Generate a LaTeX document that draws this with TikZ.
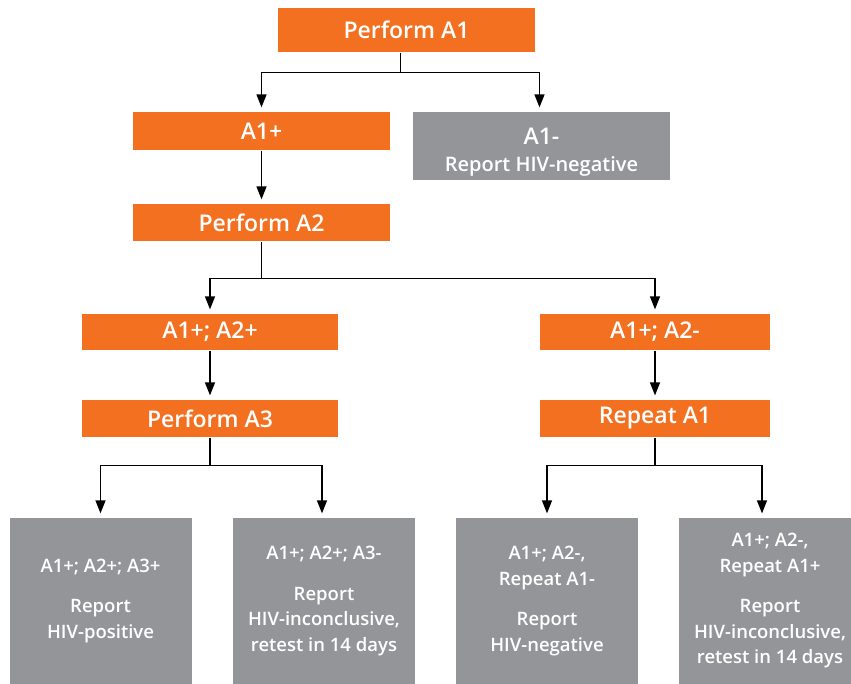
\documentclass[tikz,border=0pt]{standalone}
\usepackage{fontspec}
\setmainfont{Open Sans}[UprightFont={* Semibold}]
\usetikzlibrary{arrows.meta,positioning}
\definecolor{hivorange}{HTML}{F37021}
\definecolor{hivgray}{HTML}{939598}

\begin{document}
\begin{tikzpicture}[x=1pt,y=-1pt,
        stepbox/.style={fill=hivorange,text=white,inner sep=0pt,minimum width=257pt,minimum height=37pt,
            font=\fontsize{23}{26}\selectfont},
        resultbox/.style={fill=hivgray,text=white,align=center,inner sep=0pt,minimum width=182pt,minimum height=166pt,
            font=\fontsize{18.5}{25.5}\selectfont},
        arr/.style={-{Triangle[width=10pt,length=13pt]},shorten >=4pt},
        line width=1.2pt]
                \useasboundingbox (0,0) rectangle (851,683);
                \node[stepbox,minimum height=44pt] (pa1) at (406.5,30) {Perform A1};
                \node[stepbox,minimum height=38pt] (a1pos) at (261.5,131) {A1+};
                \node[stepbox,fill=hivgray,minimum height=68pt,align=center] (a1neg) at (541.5,146)
                    {\rule{0pt}{29pt}A1-\\[1pt]{\fontsize{20}{24}\selectfont Report HIV-negative}};
                \node[stepbox] (pa2) at (261.5,222.5) {Perform A2};
                \node[stepbox,minimum width=256pt,minimum height=36pt] (a12pos) at (210,332) {A1+; A2+};
                \node[stepbox,minimum width=230pt,minimum height=36pt] (a12neg) at (655,332) {A1+; A2-};
                \node[stepbox,minimum width=256pt] (pa3) at (210,418.5) {Perform A3};
                \node[stepbox,minimum width=230pt] (rpt) at (655,418.5) {Repeat A1};
                \node[resultbox] (res1) at (100.5,601) {A1+; A2+; A3+\\[15pt]Report\\HIV-positive};
                \node[resultbox] (res2) at (324,601) {A1+; A2+; A3-\\[15pt]Report\\HIV-inconclusive,\\retest in 14 days};
                \node[resultbox] (res3) at (547,601) {A1+; A2-,\\Repeat A1-\\[15pt]Report\\HIV-negative};
                \node[resultbox] (res4) at (770,601) {A1+; A2-,\\Repeat A1+\\[15pt]Report\\HIV-inconclusive,\\retest in 14 days};
                % connectors
                \draw ([xshift=-6pt]pa1.south) -- ++(0,20) coordinate (j1);
                \draw[arr] (j1) -| (a1pos.north);
                \draw[arr] (j1) -| ([xshift=-2pt]a1neg.north);
                \draw[arr] (a1pos.south) -- (pa2.north);
                \draw (pa2.south) -- ++(0,37) coordinate (j2);
                \draw[arr] (j2) -| (a12pos.north);
                \draw[arr] (j2) -| (a12neg.north);
                \draw[arr] (a12pos.south) -- (pa3.north);
                \draw[arr] (a12neg.south) -- (rpt.north);
                \draw (pa3.south) -- ++(0,28) coordinate (j3);
                \draw[arr] (j3) -| (res1.north);
                \draw[arr] (j3) -| ([xshift=-2pt]res2.north);
                \draw (rpt.south) -- ++(0,28) coordinate (j4);
                \draw[arr] (j4) -| (res3.north);
                \draw[arr] (j4) -| ([xshift=-8pt]res4.north);
            \end{tikzpicture}
\end{document}
